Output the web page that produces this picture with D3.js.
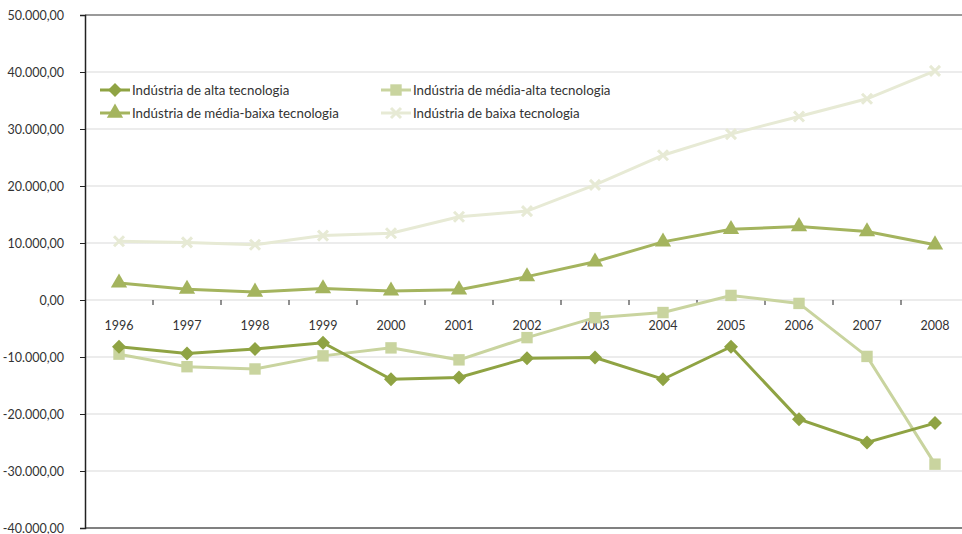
<!DOCTYPE html>
<html><head><meta charset="utf-8">
<script src="https://cdn.jsdelivr.net/npm/d3@7"></script>
<style>body{margin:0;background:#fff}svg{display:block}text{font-family:Lato,"Open Sans",sans-serif}</style>
</head><body><svg id="c" width="962" height="534"></svg>
<script>
const years = ["1996","1997","1998","1999","2000","2001","2002","2003","2004","2005","2006","2007","2008"];
const alta = [-8200,-9400,-8600,-7500,-13900,-13600,-10200,-10100,-13900,-8200,-20900,-25000,-21600];
const mediaAlta = [-9500,-11700,-12100,-9800,-8400,-10500,-6600,-3100,-2200,800,-600,-9900,-28800];
const mediaBaixa = [3000,1900,1400,2000,1600,1800,4100,6700,10200,12400,12900,12000,9700];
const baixa = [10300,10100,9700,11300,11700,14600,15600,20200,25400,29100,32200,35300,40200];
const yTicks = [50000,40000,30000,20000,10000,0,-10000,-20000,-30000,-40000];
const seriesNames = ["Indústria de alta tecnologia","Indústria de média-alta tecnologia","Indústria de média-baixa tecnologia","Indústria de baixa tecnologia"];

const series = [
  {name: seriesNames[0], values: alta, color: "#8fa343", sym: "diamond"},
  {name: seriesNames[1], values: mediaAlta, color: "#c9d49f", sym: "square"},
  {name: seriesNames[2], values: mediaBaixa, color: "#a4b45e", sym: "triangle"},
  {name: seriesNames[3], values: baixa, color: "#e7ead5", sym: "cross"}
];

const svg = d3.select("#c");
const pLeft = 85, pRight = 969, pTop = 15, pBottom = 528;
const x = d3.scaleBand().domain(years).range([pLeft, pRight]);
const y = d3.scaleLinear().domain([-40000, 50000]).range([pBottom, pTop]);

// gridlines
svg.append("g").selectAll("line").data(yTicks.filter(d => d !== 50000 && d !== -40000)).join("line")
  .attr("x1", pLeft).attr("x2", 962).attr("y1", d => y(d)).attr("y2", d => y(d))
  .attr("stroke", "#d9d9d9").attr("stroke-width", 1.2);
// top and bottom frame lines
svg.append("line").attr("x1", pLeft).attr("x2", 962).attr("y1", y(50000)).attr("y2", y(50000))
  .attr("stroke", "#9a9a9a").attr("stroke-width", 2);
svg.append("line").attr("x1", pLeft).attr("x2", 962).attr("y1", y(-40000)).attr("y2", y(-40000))
  .attr("stroke", "#808080").attr("stroke-width", 2);

// y axis
const fmt = v => {
  const s = d3.format(",.2f")(v);
  return s.replace(/,/g, "#").replace(/\./g, ",").replace(/#/g, ".").replace("−", "-");
};
const yAxis = svg.append("g").attr("transform", `translate(${pLeft},0)`)
  .call(d3.axisLeft(y).tickValues(yTicks).tickSize(5).tickPadding(16).tickFormat(fmt));
yAxis.select(".domain").attr("stroke", "#222").attr("stroke-width", 1.5);
yAxis.selectAll(".tick line").attr("stroke", "#222");
yAxis.selectAll("text").attr("font-size", 12.5).attr("fill", "#333").style("font-family", "Lato,'Open Sans',sans-serif");

// x axis at zero
const xAxisG = svg.append("g").attr("transform", `translate(0,${y(0)})`);
xAxisG.selectAll("line.tk").data(years.slice(1)).join("line").attr("class", "tk")
  .attr("x1", d => x(d)).attr("x2", d => x(d)).attr("y1", 0).attr("y2", 5)
  .attr("stroke", "#222").attr("stroke-width", 1);
xAxisG.selectAll("text").data(years).join("text")
  .attr("x", d => x(d) + x.bandwidth() / 2).attr("y", 30)
  .attr("text-anchor", "middle").attr("font-size", 12.5).attr("fill", "#333").text(d => d);

// symbols
function drawSym(g, sym, color, cx, cy) {
  if (sym === "diamond") {
    g.append("path").attr("d", "M0,-7L7,0L0,7L-7,0Z").attr("transform", `translate(${cx},${cy})`).attr("fill", color);
  } else if (sym === "square") {
    g.append("path").attr("d", d3.symbol(d3.symbolSquare, 130)()).attr("transform", `translate(${cx},${cy})`).attr("fill", color);
  } else if (sym === "triangle") {
    g.append("path").attr("d", d3.symbol(d3.symbolTriangle, 115)()).attr("transform", `translate(${cx},${cy})`).attr("fill", color);
  } else {
    g.append("path").attr("d", "M-5,-5L5,5M-5,5L5,-5").attr("transform", `translate(${cx},${cy})`)
      .attr("stroke", color).attr("stroke-width", 3).attr("fill", "none");
  }
}

const line = d3.line().x((d, i) => x(years[i]) + x.bandwidth() / 2).y(d => y(d));
// draw order: baixa, media-baixa, media-alta, alta
[3, 2, 1, 0].forEach(k => {
  const s = series[k];
  const g = svg.append("g");
  g.append("path").attr("d", line(s.values)).attr("fill", "none").attr("stroke", s.color).attr("stroke-width", 3);
  s.values.forEach((v, i) => drawSym(g, s.sym, s.color, x(years[i]) + x.bandwidth() / 2, y(v)));
});

// legend
const legPos = [[100, 90], [381, 90], [100, 113], [381, 113]];
series.forEach((s, k) => {
  const [lx, ly] = legPos[k];
  const g = svg.append("g");
  g.append("line").attr("x1", lx).attr("x2", lx + 30).attr("y1", ly).attr("y2", ly).attr("stroke", s.color).attr("stroke-width", 3);
  drawSym(g, s.sym, s.color, lx + 15, ly);
  g.append("text").attr("x", lx + 32).attr("y", ly + 4.5).attr("font-size", 13.3).attr("fill", "#333").text(s.name);
});
</script></body></html>
